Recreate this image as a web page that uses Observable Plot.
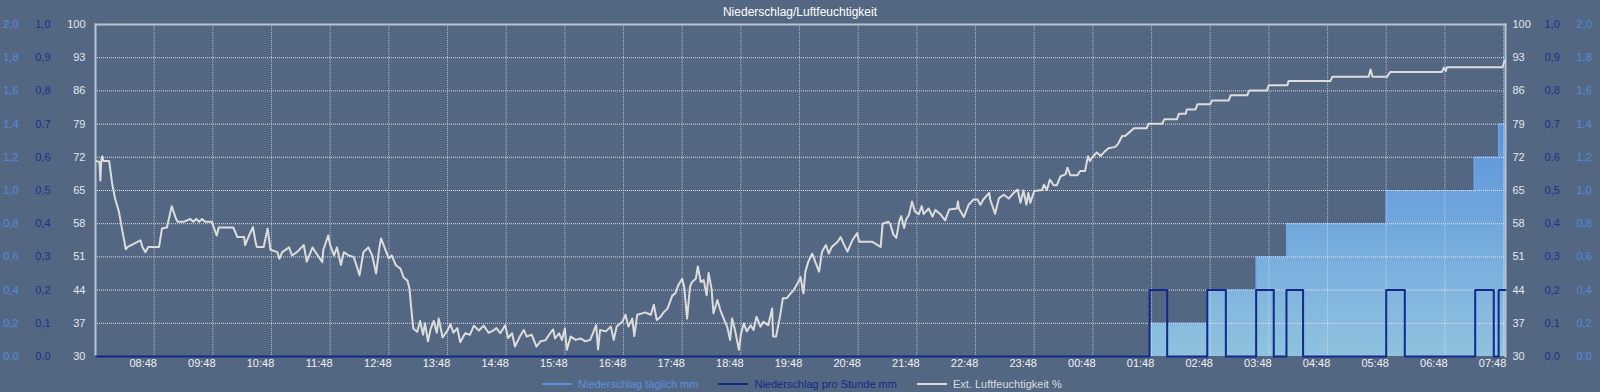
<!DOCTYPE html>
<html><head><meta charset="utf-8">
<script src="https://cdn.jsdelivr.net/npm/d3@7"></script>
<script src="https://cdn.jsdelivr.net/npm/@observablehq/plot@0.6"></script>
<style>
html,body{margin:0;padding:0;background:#546782;width:1600px;height:392px;overflow:hidden;font-family:"Liberation Sans",Arial,sans-serif;}
#wrap{position:relative;width:1600px;height:392px;}
#chart{position:absolute;left:0;top:0;}
#title{position:absolute;top:5px;left:0;width:1600px;text-align:center;color:#ffffff;font-size:12px;}
#legend{position:absolute;top:377px;left:542px;display:flex;align-items:center;font-size:11px;height:14px;}
.item{display:flex;align-items:center;margin-right:20px;}
.sw{width:30px;height:2px;margin-right:6px;}
</style></head>
<body>
<div id="wrap">
  <div id="chart"></div>
  <div id="title">Niederschlag/Luftfeuchtigkeit</div>
  <div id="legend"></div>
</div>
<script>
// ---- data ----
const title = "Niederschlag/Luftfeuchtigkeit";
const seriesNames = ["Niederschlag täglich mm", "Niederschlag pro Stunde mm", "Ext. Luftfeuchtigkeit %"];
const seriesColors = ["#5a92e0", "#10298a", "#dcdcdc"];

const xDomain = ["07:48", "07:50"]; // second is next day
const xTicks = ["08:48","09:48","10:48","11:48","12:48","13:48","14:48","15:48","16:48","17:48","18:48","19:48",
  "20:48","21:48","22:48","23:48","00:48","01:48","02:48","03:48","04:48","05:48","06:48","07:48"];

const humTicks = [30, 37, 44, 51, 58, 65, 72, 79, 86, 93, 100];
const hourlyTickLabels = ["0,0","0,1","0,2","0,3","0,4","0,5","0,6","0,7","0,8","0,9","1,0"];
const dailyTickLabels = ["0,0","0,2","0,4","0,6","0,8","1,0","1,2","1,4","1,6","1,8","2,0"];

const dailyTimes = ["07:48","01:46","02:45","03:35","04:06","05:48","07:18","07:43","07:50"];
const dailyValues = [0, 0.2, 0.4, 0.6, 0.8, 1.0, 1.2, 1.4, 1.4];

const hourlyTimes = ["07:48","01:46","02:04","02:45","03:04","03:35","03:53","04:06","04:23","05:48","06:07","07:19","07:38","07:43","07:50"];
const hourlyValues = [0, 0.2, 0, 0.2, 0, 0.2, 0, 0.2, 0, 0.2, 0, 0.2, 0, 0.2, 0.2];

const humidity = [
["07:49",71.2],["07:52",71.0],["07:53",67.1],["07:54",71.5],["07:55",72.2],["07:56",71.2],["08:02",71.2],["08:05",66.5],
["08:08",63.3],["08:12",60.5],["08:15",57.0],["08:19",52.6],["08:21",53.1],["08:34",54.5],["08:36",53.1],["08:39",52.0],
["08:42",53.1],["08:53",53.1],["08:56",57.0],["09:01",57.2],["09:03",59.0],["09:06",61.7],["09:10",59.2],["09:12",58.4],
["09:18",58.4],["09:25",59.0],["09:28",58.4],["09:31",59.0],["09:34",58.4],["09:37",59.0],["09:40",58.4],["09:47",58.4],
["09:49",57.2],["09:52",55.5],["09:54",57.2],["10:09",57.2],["10:13",55.2],["10:20",55.2],["10:21",53.5],["10:25",55.5],
["10:29",57.3],["10:32",53.8],["10:33",53.1],["10:40",53.1],["10:44",57.0],["10:47",52.5],["10:54",52.0],["10:56",50.6],
["10:59",52.0],["11:06",53.0],["11:09",51.3],["11:14",52.0],["11:21",53.5],["11:24",50.0],["11:30",53.0],["11:33",52.0],
["11:40",49.9],["11:41",52.5],["11:46",55.5],["11:48",53.5],["11:52",51.3],["11:55",53.0],["11:59",49.3],["12:02",52.0],
["12:07",51.3],["12:12",51.0],["12:16",48.5],["12:18",47.1],["12:22",52.0],["12:27",53.0],["12:31",51.3],["12:35",47.5],
["12:38",52.5],["12:40",54.9],["12:45",52.2],["12:48",50.7],["12:51",51.3],["12:55",49.3],["13:00",48.5],["13:03",46.7],
["13:07",46.0],["13:09",44.4],["13:11",40.0],["13:13",35.9],["13:17",35.2],["13:20",37.5],["13:23",34.6],["13:25",37.0],
["13:28",33.2],["13:31",36.0],["13:34",37.5],["13:37",35.0],["13:39",38.0],["13:43",34.0],["13:48",35.5],["13:51",36.8],
["13:54",35.0],["13:58",36.0],["14:01",33.0],["14:06",34.9],["14:11",34.6],["14:15",36.5],["14:20",35.5],["14:25",36.5],
["14:30",35.0],["14:35",35.5],["14:38",36.0],["14:42",34.9],["14:47",36.6],["14:50",33.9],["14:54",34.9],["14:57",32.1],
["15:02",34.2],["15:06",35.6],["15:09",34.2],["15:14",34.6],["15:19",32.1],["15:23",33.2],["15:28",33.4],["15:33",34.9],
["15:36",35.7],["15:38",33.8],["15:42",34.9],["15:45",33.5],["15:48",35.9],["15:50",31.4],["15:54",34.2],["15:59",33.5],
["16:04",33.8],["16:09",33.2],["16:14",33.5],["16:18",35.6],["16:20",36.6],["16:22",31.5],["16:24",35.6],["16:30",35.3],
["16:35",36.3],["16:38",33.5],["16:41",36.3],["16:47",37.4],["16:50",38.8],["16:53",36.3],["16:57",38.0],["16:59",34.3],
["17:02",38.8],["17:07",39.1],["17:10",39.3],["17:16",38.8],["17:19",40.9],["17:22",37.7],["17:26",38.4],["17:29",39.3],
["17:33",40.1],["17:38",42.9],["17:41",43.3],["17:44",45.0],["17:48",46.4],["17:50",44.7],["17:53",38.0],["17:56",44.7],
["17:58",45.7],["18:02",46.4],["18:04",49.0],["18:07",45.7],["18:10",46.1],["18:13",42.9],["18:15",47.6],["18:18",44.3],
["18:20",39.1],["18:24",41.9],["18:27",39.8],["18:31",37.7],["18:34",36.3],["18:37",33.5],["18:39",38.0],["18:42",35.6],
["18:46",31.4],["18:48",34.6],["18:51",37.0],["18:54",35.3],["18:58",36.6],["19:01",35.6],["19:04",38.4],["19:08",36.3],
["19:11",37.3],["19:16",36.6],["19:20",40.1],["19:21",34.2],["19:24",34.2],["19:28",38.4],["19:31",42.3],["19:35",42.3],
["19:39",43.3],["19:42",44.0],["19:46",45.4],["19:49",46.8],["19:52",43.3],["19:54",47.9],["19:57",50.0],["20:01",51.7],
["20:04",50.0],["20:08",47.9],["20:11",52.1],["20:15",53.5],["20:18",51.7],["20:21",53.1],["20:27",54.2],["20:30",55.2],
["20:33",53.8],["20:37",52.1],["20:42",54.5],["20:47",56.0],["20:49",54.2],["20:54",54.2],["21:02",54.2],["21:11",53.1],
["21:13",58.0],["21:19",58.4],["21:21",57.8],["21:24",55.7],["21:27",55.0],["21:30",58.5],["21:32",59.6],["21:35",57.1],
["21:37",58.9],["21:40",59.9],["21:43",62.7],["21:46",60.6],["21:50",60.0],["21:53",61.7],["21:55",60.0],["22:00",61.2],
["22:04",59.5],["22:07",60.9],["22:12",60.0],["22:17",58.7],["22:21",61.0],["22:29",61.2],["22:30",62.7],["22:31",61.2],
["22:36",59.4],["22:41",62.0],["22:46",63.1],["22:50",63.1],["22:53",62.0],["22:56",63.1],["23:02",64.5],["23:03",63.1],
["23:08",60.1],["23:12",63.4],["23:17",64.1],["23:22",63.3],["23:27",64.5],["23:31",65.2],["23:34",62.4],["23:37",65.0],
["23:40",62.0],["23:42",64.5],["23:44",62.4],["23:48",64.9],["23:56",65.1],["23:58",66.2],["00:01",65.1],["00:04",67.3],
["00:08",66.1],["00:11",66.1],["00:15",68.0],["00:20",68.4],["00:22",69.8],["00:25",68.2],["00:32",68.2],["00:35",69.1],
["00:40",69.1],["00:43",72.2],["00:45",71.2],["00:47",71.9],["00:52",73.0],["00:56",72.3],["00:59",73.0],["01:04",73.9],
["01:11",74.2],["01:14",74.9],["01:18",76.5],["01:21",76.5],["01:25",77.2],["01:30",78.1],["01:43",78.1],["01:45",79.1],
["01:59",79.1],["02:01",80.0],["02:14",80.0],["02:16",81.2],["02:23",81.2],["02:24",82.1],["02:33",82.1],["02:35",83.2],
["02:48",83.2],["02:50",84.0],["03:07",84.0],["03:09",85.1],["03:26",85.1],["03:28",86.1],["03:46",86.1],["03:48",87.2],
["04:07",87.2],["04:08",88.1],["04:51",88.1],["04:53",89.0],["05:30",89.0],["05:32",90.5],["05:34",89.0],["05:49",89.0],
["05:52",90.0],["06:45",90.0],["06:47",90.9],["06:49",90.2],["06:50",91.0],["07:47",91.0],["07:49",92.4]
];

// ---- helpers ----
const baseDay = new Date(2024, 0, 1);
function at(hhmm, day) {
  const [h, m] = hhmm.split(":").map(Number);
  return new Date(baseDay.getFullYear(), baseDay.getMonth(), baseDay.getDate() + day, h, m);
}
function seq(list) {
  let day = 0, prev = -1;
  return list.map(s => {
    const [h, m] = s.split(":").map(Number);
    const mm = h * 60 + m;
    if (mm < prev) day++;
    prev = mm;
    return at(s, day);
  });
}
// rain scales aligned with humidity axis: 0 -> 30, hourly 1.0 -> 100, daily 2.0 -> 100
const hourlyToY = v => 30 + v * 70;
const dailyToY = v => 30 + v * 35;

const dailyT = seq(dailyTimes);
const daily = dailyT.map((t, i) => ({t, y: dailyToY(dailyValues[i])}));
const hourlyT = seq(hourlyTimes);
const hourly = hourlyT.map((t, i) => ({t, y: hourlyToY(hourlyValues[i])}));
const humT = seq(humidity.map(d => d[0]));
const hum = humT.map((t, i) => ({t, y: humidity[i][1]}));
const tickT = seq(xTicks);
const domain = [at(xDomain[0], 0), at(xDomain[1], 1)];
const fmt = d3.timeFormat("%H:%M");

const font = '"Liberation Sans", Arial, sans-serif';
const chart = Plot.plot({
  width: 1600, height: 392,
  marginLeft: 95, marginRight: 95, marginTop: 24, marginBottom: 36,
  style: {background: "transparent", fontFamily: font, fontSize: "11px", color: "#e6eaf0"},
  x: {type: "time", domain, label: null},
  y: {domain: [30, 100], label: null},
  marks: [
    Plot.areaY(daily, {x: "t", y1: 30, y2: "y", curve: "step-after", fill: "url(#rainGrad)"}),
    Plot.lineY(daily, {x: "t", y: "y", curve: "step-after", stroke: "#6aa8f0", strokeWidth: 1}),
    Plot.ruleY(humTicks.slice(1, -1), {stroke: "#eef2f7", strokeOpacity: 0.85, strokeDasharray: "1,1"}),
    Plot.ruleX(tickT, {stroke: "#eef2f7", strokeOpacity: 0.6, strokeDasharray: "1,1"}),
    Plot.frame({anchor: "top", stroke: "#b9c4d1", strokeWidth: 2}),
    Plot.frame({anchor: "left", stroke: "#b9c4d1", strokeWidth: 2}),
    Plot.frame({anchor: "right", stroke: "#b9c4d1", strokeWidth: 2}),
    Plot.lineY(hourly, {x: "t", y: "y", curve: "step-after", stroke: seriesColors[1], strokeWidth: 2}),
    Plot.lineY(hum, {x: "t", y: "y", stroke: "#dcdcdc", strokeWidth: 2}),
    Plot.axisX({ticks: tickT, tickFormat: fmt, tickSize: 0, tickPadding: 3, dx: -11, fill: "#eef1f5", fontSize: 11, label: null}),
    Plot.axisY({anchor: "left", ticks: humTicks, tickSize: 0, tickPadding: 10, tickFormat: d => String(d), fill: "#e2e6ec", label: null}),
    Plot.axisY({anchor: "left", ticks: humTicks, tickSize: 0, tickPadding: 45, tickFormat: d => hourlyTickLabels[humTicks.indexOf(d)], fill: "#1b2f8e", label: null}),
    Plot.axisY({anchor: "left", ticks: humTicks, tickSize: 0, tickPadding: 77, tickFormat: d => dailyTickLabels[humTicks.indexOf(d)], fill: "#4f8be0", label: null}),
    Plot.axisY({anchor: "right", ticks: humTicks, tickSize: 0, tickPadding: 7, tickFormat: d => String(d), fill: "#e2e6ec", label: null}),
    Plot.axisY({anchor: "right", ticks: humTicks, tickSize: 0, tickPadding: 39, tickFormat: d => hourlyTickLabels[humTicks.indexOf(d)], fill: "#1b2f8e", label: null}),
    Plot.axisY({anchor: "right", ticks: humTicks, tickSize: 0, tickPadding: 71, tickFormat: d => dailyTickLabels[humTicks.indexOf(d)], fill: "#4f8be0", label: null})
  ]
});
const svg = d3.select(chart);
const grad = svg.insert("defs", ":first-child").append("linearGradient")
  .attr("id", "rainGrad").attr("gradientUnits", "userSpaceOnUse")
  .attr("x1", 0).attr("y1", 24).attr("x2", 0).attr("y2", 356);
grad.append("stop").attr("offset", 0).attr("stop-color", "#467fdb");
grad.append("stop").attr("offset", 1).attr("stop-color", "#8fc2de");
document.getElementById("chart").appendChild(chart);

document.getElementById("title").textContent = title;
const legend = d3.select("#legend");
seriesNames.forEach((n, i) => {
  const it = legend.append("div").attr("class", "item");
  it.append("div").attr("class", "sw").style("background", seriesColors[i]);
  it.append("span").style("color", i === 2 ? "#d8dde3" : seriesColors[i]).text(n);
});
</script>
</body></html>
